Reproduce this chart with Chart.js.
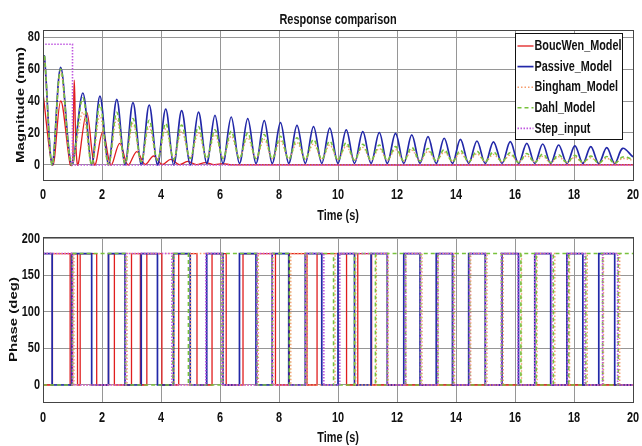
<!DOCTYPE html>
<html>
<head>
<meta charset="utf-8">
<script src="https://cdn.jsdelivr.net/npm/chart.js@4.4.1/dist/chart.umd.min.js"></script>
<style>
  html, body { margin: 0; padding: 0; background: #fff; }
  canvas { display: block; }
</style>
</head>
<body>
<canvas id="magChart" width="642" height="223"></canvas>
<canvas id="phaseChart" width="642" height="223"></canvas>
<script>
var seriesNames = ['BoucWen_Model', 'Passive_Model', 'Bingham_Model', 'Dahl_Model', 'Step_input'];
var xTicks = [0, 2, 4, 6, 8, 10, 12, 14, 16, 18, 20];
var magTicks = [0, 20, 40, 60, 80];
var phaseTicks = [0, 50, 100, 150, 200];

// hump timing shared by passive, bingham and dahl responses
var humpStartTime = [0, 0.05];
var humpTroughTime = [0.31, 0.97, 1.65, 2.22, 2.78, 3.33, 3.88, 4.43, 4.99, 5.55, 6.1, 6.66, 7.22, 7.77, 8.33, 8.89, 9.45, 10.0,
  10.56, 11.12, 11.67, 12.23, 12.78, 13.33, 13.88, 14.43, 14.99, 15.56, 16.12, 16.67, 17.21, 17.76, 18.3, 18.84, 19.38];
var humpPeakTime = [0.6, 1.35, 1.93, 2.5, 3.05, 3.6, 4.16, 4.7, 5.27, 5.83, 6.38, 6.94, 7.5, 8.05, 8.61, 9.17, 9.72, 10.28,
  10.84, 11.4, 11.95, 12.5, 13.05, 13.6, 14.15, 14.71, 15.27, 15.84, 16.4, 16.94, 17.48, 18.03, 18.57, 19.11, 19.65];
var humpEndTime = 20;

var passiveStart = [66, 68];
var passiveTrough = [0, 0, 0, 0, 0, 0, 0, 0, 0, 1, 1, 1, 1, 1, 1, 1, 1, 1, 1, 1, 1, 1, 1, 1, 1, 1, 1, 1, 1, 1, 1, 1, 1, 1, 1];
var passivePeak = [61, 45, 43, 41, 39, 37.5, 35, 34, 33, 31, 30, 29, 27.7, 26.5, 24.8, 24, 23, 22, 20.8, 20.3, 19.8, 18.8,
  17.7, 16.7, 16, 15, 14.5, 14.6, 13.5, 13.1, 12.5, 11.9, 11.5, 10.8, 10.4];
var passiveEnd = 5;

var binghamStart = [64, 66];
var binghamTrough = [0, 0, 0, 0, 1, 2, 3, 4, 4.5, 4.5, 4.5, 4.5, 4, 4, 4, 3.5, 3.5, 3.5, 3, 3, 3, 2.5, 2.5, 2.5, 2.5, 2, 2, 2, 2, 2,
  1.5, 1.5, 1.5, 1.5, 1.5];
var binghamPeak = [58, 33, 31, 29, 26, 24, 22.5, 21, 20, 19, 18, 17, 16, 15, 14, 13.2, 12.5, 11.8, 11, 10.3, 9.7, 9.2, 8.6, 8,
  7.5, 7, 6.6, 6.2, 5.8, 5.4, 5.1, 4.8, 4.5, 4.2, 4];
var binghamEnd = 3;

var dahlStart = [66, 69];
var dahlTrough = [0, 0, 0, 0, 1, 2, 3, 3.5, 4, 4, 4, 4, 4, 4, 3.5, 3.5, 3.5, 3, 3, 3, 3, 2.5, 2.5, 2.5, 2, 2, 2, 2, 1.5, 1.5, 1.5,
  1.5, 1.5, 1, 1];
var dahlPeak = [60, 42, 38, 33, 29, 28, 26, 25, 24, 22, 21, 20, 19, 18, 17, 16, 15, 14, 13, 12.5, 11.5, 11, 10.3, 9.7, 9.2, 8.6,
  8.2, 7.7, 7.2, 6.8, 6.4, 6, 5.6, 5.3, 5];
var dahlEnd = 3.5;

var boucwenTime = [0, 0.33, 0.6, 0.92, 1.0, 1.06, 1.17, 1.48, 1.75, 2.03, 2.3, 2.6, 2.88, 3.18, 3.46, 3.75, 4.04, 4.33, 4.62,
  4.9, 5.2, 5.5, 5.8, 6.1, 6.4, 20];
var boucwenMag = [45, 0, 40, 0, 0, 53, 0, 33, 0, 21, 0, 13.5, 0, 8.3, 0.3, 5.6, 0.3, 3.5, 0.2, 2.2, 0.2, 1.5, 0.2, 0.8, 0.1, 0];

var stepTime = [0, 0, 1, 1, 20];
var stepMag = [0, 75.5, 75.5, 0, 0];

// phase (deg): level at t=0 and the times where it flips between 0 and 180
var boucwenPhaseStart = 0;
var boucwenSwitch = [0.32, 0.92, 1.0, 1.17, 1.26, 1.82, 2.22, 2.42, 3.0, 3.3, 3.52, 4.03, 4.6, 5.22, 5.73, 6.21, 6.78, 7.88,
  8.35, 8.95, 9.29, 10.29, 10.67, 11.14];
var passivePhaseStart = 180;
var passiveSwitch = humpTroughTime;
var binghamPhaseStart = 180;
var binghamSwitch = [1.05, 2.85, 4.45, 5.0, 6.1, 7.3, 7.8, 8.4, 8.95, 9.9, 10.6, 11.3, 11.7, 12.3, 12.85, 13.4, 13.95, 14.5,
  15.05, 15.6, 16.22, 16.75, 17.35, 17.85, 18.45, 19.0, 19.55];
var dahlPhaseStart = 0;
var dahlSwitch = [1.0, 2.8, 4.4, 4.93, 6.07, 7.26, 7.77, 8.35, 8.9, 9.85, 10.56, 11.27, 11.67, 12.29, 12.8, 13.38, 13.91, 14.46,
  15.0, 15.54, 16.2, 16.72, 17.3, 17.82, 18.4, 18.97, 19.5];
var stepPhaseStart = 0;
var stepSwitch = [0, 1.0, 2.8, 4.37, 5.52, 6.07, 7.26, 7.77, 8.9, 9.52, 10.06, 11.67, 12.29, 12.8, 13.38, 13.91, 14.46, 15.0,
  15.54, 16.1, 16.67, 17.25, 17.78, 18.37, 18.97, 19.48];

var colors = ['#e01e1e', '#2228a8', '#f59c6c', '#78c23c', '#c058e0'];
var dashes = [[], [], [1.5, 2], [4, 3], [1.5, 1.5]];
var widths = [1.3, 1.7, 1.4, 1.6, 1.6];
var wide = "'Liberation Sans', Arial, sans-serif";
var squeeze = 0.78; // the figure text is drawn narrow

function humpPoints(start, trough, peak, end) {
  var pts = [];
  for (var i = 0; i < start.length; i++) pts.push({x: humpStartTime[i], y: start[i]});
  for (var j = 0; j < trough.length; j++) {
    pts.push({x: humpTroughTime[j], y: trough[j]});
    pts.push({x: humpPeakTime[j], y: peak[j]});
  }
  pts.push({x: humpEndTime, y: end});
  return pts;
}

function pairPoints(t, v) {
  return t.map(function(x, i) { return {x: x, y: v[i]}; });
}

function phasePoints(start, sw) {
  var level = start;
  var pts = [{x: 0, y: level}];
  sw.forEach(function(s) {
    pts.push({x: s, y: level});
    level = 180 - level;
    pts.push({x: s, y: level});
  });
  pts.push({x: 20, y: level});
  return pts;
}

function makeSets(data, curve) {
  return data.map(function(d, i) {
    return {
      label: seriesNames[i],
      data: d,
      borderColor: colors[i],
      borderDash: dashes[i],
      borderWidth: widths[i],
      pointRadius: 0,
      fill: false,
      tension: (curve && i < 4) ? 0.35 : 0,
      order: 5 - i
    };
  });
}

function narrowText(ctx, text, x, y, size, align, rotate) {
  ctx.save();
  ctx.translate(x, y);
  ctx.scale(squeeze, 1);
  if (rotate) ctx.rotate(-Math.PI / 2);
  ctx.font = 'bold ' + size + 'px ' + wide;
  ctx.fillStyle = '#111';
  ctx.textAlign = align;
  ctx.textBaseline = 'middle';
  ctx.fillText(text, 0, 0);
  ctx.restore();
}

var boxPlugin = {
  id: 'box',
  afterDraw: function(chart) {
    var a = chart.chartArea, ctx = chart.ctx;
    ctx.save();
    ctx.strokeStyle = '#444';
    ctx.lineWidth = 1;
    ctx.strokeRect(Math.round(a.left) + 0.5, Math.round(a.top) + 0.5, Math.round(a.right - a.left), Math.round(a.bottom - a.top));
    ctx.restore();
  }
};

// tick labels and titles, drawn narrow like the original figure
var axisText = {
  id: 'axisText',
  afterDraw: function(chart, args, opts) {
    var a = chart.chartArea, ctx = chart.ctx;
    var xs = chart.scales.x, ys = chart.scales.y;
    xs.ticks.forEach(function(t) {
      narrowText(ctx, String(t.value), xs.getPixelForValue(t.value), opts.xTickY, 14, 'center', false);
    });
    ys.ticks.forEach(function(t) {
      narrowText(ctx, String(t.value), 40, ys.getPixelForValue(t.value), 14, 'right', false);
    });
    narrowText(ctx, 'Time (s)', (a.left + a.right) / 2, opts.xTitleY, 14, 'center', false);
    narrowText(ctx, opts.yTitle, opts.yTitleX, (a.top + a.bottom) / 2, 15, 'center', true);
    if (opts.title) narrowText(ctx, opts.title, (a.left + a.right) / 2, 20, 14, 'center', false);
  }
};

var legendPlugin = {
  id: 'boxLegend',
  afterDraw: function(chart) {
    var ctx = chart.ctx;
    var x0 = 515.5, y0 = 33.5, w = 107, h = 106;
    ctx.save();
    ctx.fillStyle = '#fff';
    ctx.fillRect(x0, y0, w, h);
    ctx.strokeStyle = '#111';
    ctx.lineWidth = 1;
    ctx.strokeRect(x0, y0, w, h);
    ctx.font = 'bold 15px ' + wide;
    var sx = 87 / ctx.measureText(seriesNames[0]).width;
    chart.data.datasets.forEach(function(ds, i) {
      var y = y0 + 12.5 + i * 20.6;
      ctx.strokeStyle = ds.borderColor;
      ctx.lineWidth = ds.borderWidth;
      ctx.setLineDash(ds.borderDash);
      ctx.beginPath();
      ctx.moveTo(x0 + 2, y);
      ctx.lineTo(x0 + 18, y);
      ctx.stroke();
      ctx.setLineDash([]);
      ctx.save();
      ctx.translate(x0 + 19, y);
      ctx.scale(sx, 1);
      ctx.fillStyle = '#111';
      ctx.textBaseline = 'middle';
      ctx.fillText(ds.label, 0, 0);
      ctx.restore();
    });
    ctx.restore();
  }
};

function axisOptions(yMin, yMax, yTicks, xHeight) {
  return {
    x: {
      type: 'linear', min: 0, max: 20,
      afterBuildTicks: function(s) { s.ticks = xTicks.map(function(v) { return {value: v}; }); },
      afterFit: function(s) { s.height = xHeight; },
      grid: { color: '#969696', drawTicks: false },
      border: { display: false },
      ticks: { display: false }
    },
    y: {
      min: yMin, max: yMax,
      afterBuildTicks: function(s) { s.ticks = yTicks.map(function(v) { return {value: v}; }); },
      afterFit: function(s) { s.width = 43; },
      grid: { color: '#969696', drawTicks: false },
      border: { display: false },
      ticks: { display: false }
    }
  };
}

new Chart(document.getElementById('magChart'), {
  type: 'line',
  data: {
    datasets: makeSets([
      pairPoints(boucwenTime, boucwenMag),
      humpPoints(passiveStart, passiveTrough, passivePeak, passiveEnd),
      humpPoints(binghamStart, binghamTrough, binghamPeak, binghamEnd),
      humpPoints(dahlStart, dahlTrough, dahlPeak, dahlEnd),
      pairPoints(stepTime, stepMag)
    ], true)
  },
  options: {
    responsive: false, animation: false, devicePixelRatio: 1,
    layout: { padding: { top: 30, right: 9, left: 0, bottom: 0 } },
    plugins: {
      legend: { display: false }, tooltip: { enabled: false },
      axisText: { yTitle: 'Magnitude (mm)', yTitleX: 21, xTickY: 195, xTitleY: 216, title: 'Response comparison' }
    },
    scales: axisOptions(-9.4, 84.4, magTicks, 43)
  },
  plugins: [boxPlugin, axisText, legendPlugin]
});

new Chart(document.getElementById('phaseChart'), {
  type: 'line',
  data: {
    datasets: makeSets([
      phasePoints(boucwenPhaseStart, boucwenSwitch),
      phasePoints(passivePhaseStart, passiveSwitch),
      phasePoints(binghamPhaseStart, binghamSwitch),
      phasePoints(dahlPhaseStart, dahlSwitch),
      phasePoints(stepPhaseStart, stepSwitch)
    ], false)
  },
  options: {
    responsive: false, animation: false, devicePixelRatio: 1,
    layout: { padding: { top: 14, right: 9, left: 0, bottom: 0 } },
    plugins: {
      legend: { display: false }, tooltip: { enabled: false },
      axisText: { yTitle: 'Phase (deg)', yTitleX: 14, xTickY: 195, xTitleY: 215 }
    },
    scales: axisOptions(-23.3, 202.7, phaseTicks, 44)
  },
  plugins: [boxPlugin, axisText]
});
</script>
</body>
</html>
